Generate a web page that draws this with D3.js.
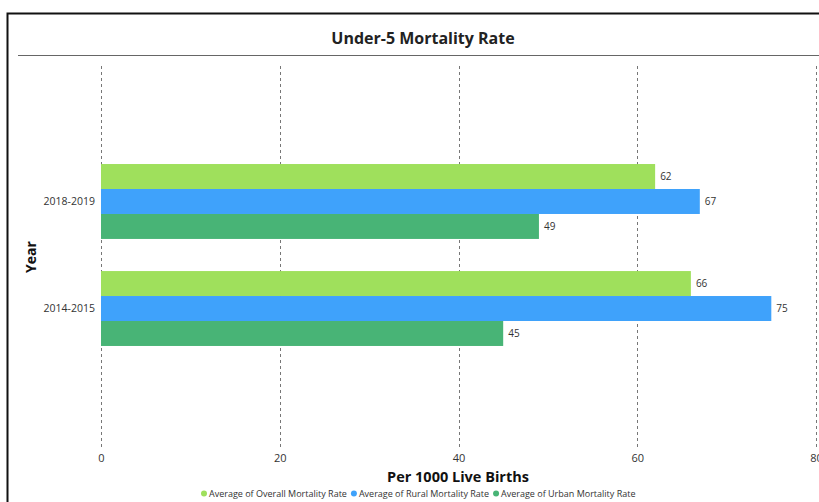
<!DOCTYPE html>
<html>
<head>
<meta charset="utf-8">
<script src="https://cdn.jsdelivr.net/npm/d3@7"></script>
<style>
  html, body { margin: 0; padding: 0; background: #fff; }
  svg { display: block; font-family: "Open Sans", "Noto Sans", sans-serif; }
</style>
</head>
<body>
<svg id="chart" width="819" height="502"></svg>
<script>
// Under-5 mortality per 1000 live births, by survey year and area
const years = ["2018-2019", "2014-2015"];
const seriesNames = [
  "Average of Overall Mortality Rate",
  "Average of Rural Mortality Rate",
  "Average of Urban Mortality Rate"
];
const overallRate = [62, 66];
const ruralRate = [67, 75];
const urbanRate = [49, 45];
const xTicks = [0, 20, 40, 60, 80];
const seriesColors = ["#9fe05c", "#3fa2fb", "#48b476"];

const seriesValues = [overallRate, ruralRate, urbanRate];
const rows = years.map((yr, i) => ({
  year: yr,
  values: seriesNames.map((s, k) => ({ key: s, value: seriesValues[k][i], color: seriesColors[k] }))
}));

const svg = d3.select("#chart");

// outer frame (left and top edges visible)
svg.append("rect")
  .attr("x", 7.5).attr("y", 13.5)
  .attr("width", 830).attr("height", 520)
  .attr("fill", "none").attr("stroke", "#111").attr("stroke-width", 2);

// title
svg.append("text")
  .attr("x", 423).attr("y", 44)
  .attr("text-anchor", "middle")
  .attr("font-size", 16).attr("font-weight", 700)
  .attr("fill", "#222")
  .text("Under-5 Mortality Rate");

svg.append("line")
  .attr("x1", 18).attr("x2", 819)
  .attr("y1", 55.5).attr("y2", 55.5)
  .attr("stroke", "#666").attr("stroke-width", 1.2);

const x = d3.scaleLinear().domain([0, 80]).range([101, 816]);
const y = d3.scaleBand().domain(years).range([66, 444]).paddingInner(0.3).paddingOuter(0.916);
const ySub = d3.scaleBand().domain(seriesNames).range([0, y.bandwidth()]);

// dashed vertical gridlines
svg.append("g")
  .selectAll("line")
  .data(xTicks)
  .join("line")
  .attr("x1", d => Math.round(x(d)) + 0.5)
  .attr("x2", d => Math.round(x(d)) + 0.5)
  .attr("y1", 66).attr("y2", 450)
  .attr("stroke", "#777").attr("stroke-width", 1)
  .attr("stroke-dasharray", "3,3");

// x axis tick labels
const xAxis = d3.axisBottom(x).tickValues(xTicks).tickSize(0).tickPadding(0);
const gx = svg.append("g").attr("transform", "translate(0,452)").call(xAxis);
gx.select(".domain").remove();
gx.selectAll("text")
  .attr("font-family", "\"Open Sans\", sans-serif")
  .attr("font-size", 11).attr("fill", "#333")
  .attr("dy", "0.9em");

// y axis category labels
const yAxis = d3.axisLeft(y).tickSize(0).tickPadding(6);
const gy = svg.append("g").attr("transform", "translate(101,0)").call(yAxis);
gy.select(".domain").remove();
gy.selectAll("text")
  .attr("font-family", "\"Open Sans\", sans-serif")
  .attr("font-size", 10.5).attr("fill", "#333");

// bars
const groups = svg.append("g")
  .selectAll("g")
  .data(rows)
  .join("g")
  .attr("transform", d => `translate(0,${y(d.year)})`);

groups.selectAll("rect")
  .data(d => d.values)
  .join("rect")
  .attr("x", x(0))
  .attr("y", d => ySub(d.key))
  .attr("width", d => x(d.value) - x(0))
  .attr("height", ySub.bandwidth())
  .attr("fill", d => d.color);

groups.selectAll("text")
  .data(d => d.values)
  .join("text")
  .attr("x", d => x(d.value) + 5)
  .attr("y", d => ySub(d.key) + ySub.bandwidth() / 2)
  .attr("dy", "0.35em")
  .attr("font-size", 10).attr("fill", "#333")
  .text(d => d.value);

// axis titles
svg.append("text")
  .attr("x", 458).attr("y", 482)
  .attr("text-anchor", "middle")
  .attr("font-size", 14.5).attr("font-weight", 700).attr("fill", "#111")
  .text("Per 1000 Live Births");

svg.append("text")
  .attr("transform", "translate(36,257) rotate(-90)")
  .attr("text-anchor", "middle")
  .attr("font-size", 14).attr("font-weight", 700).attr("fill", "#111")
  .text("Year");

// legend
const legend = svg.append("g").attr("transform", "translate(0,497)");
let lx = 201;
seriesNames.forEach((name, k) => {
  legend.append("circle")
    .attr("cx", lx + 3).attr("cy", -3.5).attr("r", 3)
    .attr("fill", seriesColors[k]);
  const t = legend.append("text")
    .attr("x", lx + 8).attr("y", 0)
    .attr("font-size", 9).attr("fill", "#333")
    .text(name);
  lx += 8 + t.node().getComputedTextLength() + 4;
});
</script>
</body>
</html>
